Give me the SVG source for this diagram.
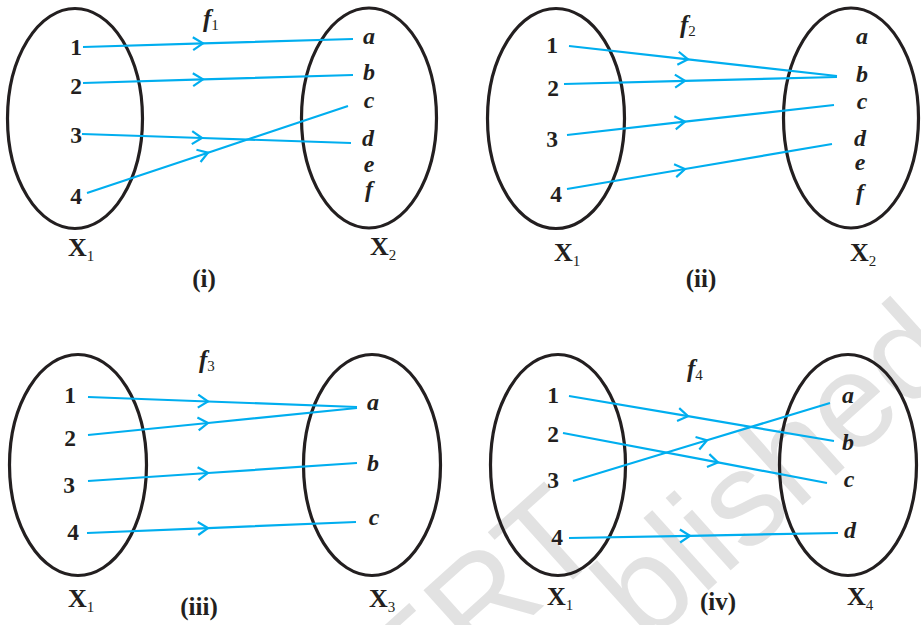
<svg xmlns="http://www.w3.org/2000/svg" width="921" height="625" viewBox="0 0 921 625">
<style>
.set{fill:none;stroke:#231f20;stroke-width:3.2}
.num{font-family:"Liberation Serif",serif;font-weight:bold;font-size:23.5px;fill:#231f20;text-anchor:middle}
.let{font-family:"Liberation Serif",serif;font-weight:bold;font-style:italic;font-size:24px;fill:#231f20;text-anchor:middle}
.xl{font-family:"Liberation Serif",serif;font-weight:bold;font-size:26px;fill:#231f20}
.sub{font-size:15px;font-weight:normal}
.fn{font-family:"Liberation Serif",serif;font-weight:bold;font-style:italic;font-size:25px;fill:#231f20}
.fsub{font-size:15px;font-style:normal;font-weight:normal}
.cap{font-family:"Liberation Serif",serif;font-weight:bold;font-size:25px;fill:#231f20;text-anchor:middle}
.arr{fill:none;stroke:#00aeef;stroke-width:2.2;marker-mid:url(#chev)}
.wm{font-family:"Liberation Sans",sans-serif;font-size:134px;fill:#e2e2e2;text-anchor:end}
</style>
<defs>
<marker id="chev" markerUnits="userSpaceOnUse" orient="auto" refX="0" refY="0" markerWidth="20" markerHeight="20" overflow="visible">
<path d="M-10,-6.5 L0,0 L-10,6.5" fill="none" stroke="#00aeef" stroke-width="2.2"/>
</marker>
</defs>
<rect width="921" height="625" fill="#ffffff"/>
<g id="watermark">
<text class="wm" transform="translate(608,548) rotate(-42)">ERT</text>
<text class="wm" transform="translate(962,362) rotate(-42)">blished</text>
</g>

<!-- Panel (i) -->
<g id="p1-X1">
<ellipse class="set" cx="75" cy="118.5" rx="67.5" ry="110"/>
<text class="num" x="76" y="55">1</text>
<text class="num" x="76" y="94">2</text>
<text class="num" x="76" y="143">3</text>
<text class="num" x="76" y="204">4</text>
<text class="xl" x="68" y="256">X<tspan class="sub" dy="5">1</tspan></text>
</g>
<g id="p1-X2">
<ellipse class="set" cx="369" cy="118" rx="67.5" ry="110"/>
<text class="let" x="369" y="44">a</text>
<text class="let" x="369" y="80">b</text>
<text class="let" x="369" y="108">c</text>
<text class="let" x="368" y="146">d</text>
<text class="let" x="369" y="172">e</text>
<text class="let" x="369" y="197">f</text>
<text class="xl" x="370" y="255">X<tspan class="sub" dy="5">2</tspan></text>
</g>
<g id="p1-connectors">
<path class="arr" d="M83,47 L203,43.4 L353,39"/>
<path class="arr" d="M83,83 L203,79.4 L353,75"/>
<path class="arr" d="M82,134 L202,138 L351,143"/>
<path class="arr" d="M87,193 L208,152.7 L348,106"/>
</g>
<g id="p1-labels">
<text class="fn" x="203" y="27">f<tspan class="fsub" dy="3">1</tspan></text>
<text class="cap" x="204" y="287">(i)</text>
</g>

<!-- Panel (ii) -->
<g id="p2-X1">
<ellipse class="set" cx="556" cy="118.5" rx="68.5" ry="110"/>
<text class="num" x="552" y="53">1</text>
<text class="num" x="553" y="96">2</text>
<text class="num" x="552" y="147">3</text>
<text class="num" x="556" y="202">4</text>
<text class="xl" x="554" y="261">X<tspan class="sub" dy="5">1</tspan></text>
</g>
<g id="p2-X2">
<ellipse class="set" cx="851" cy="118" rx="67.5" ry="110"/>
<text class="let" x="862" y="44">a</text>
<text class="let" x="862" y="82">b</text>
<text class="let" x="862" y="109">c</text>
<text class="let" x="860" y="146">d</text>
<text class="let" x="860" y="170">e</text>
<text class="let" x="860" y="200">f</text>
<text class="xl" x="850" y="261">X<tspan class="sub" dy="5">2</tspan></text>
</g>
<g id="p2-connectors">
<path class="arr" d="M569,46 L688,59.3 L837,76"/>
<path class="arr" d="M564,84 L685,80.9 L837,77"/>
<path class="arr" d="M567,135 L685,121.7 L834,105"/>
<path class="arr" d="M567,189 L685,169 L832,144"/>
</g>
<g id="p2-labels">
<text class="fn" x="680" y="33">f<tspan class="fsub" dy="3">2</tspan></text>
<text class="cap" x="701" y="287">(ii)</text>
</g>

<!-- Panel (iii) -->
<g id="p3-X1">
<ellipse class="set" cx="78" cy="465" rx="68.5" ry="110.5"/>
<text class="num" x="70" y="403">1</text>
<text class="num" x="70" y="446">2</text>
<text class="num" x="69" y="493">3</text>
<text class="num" x="73" y="540">4</text>
<text class="xl" x="68" y="607">X<tspan class="sub" dy="5">1</tspan></text>
</g>
<g id="p3-X3">
<ellipse class="set" cx="372" cy="465" rx="68.5" ry="110.5"/>
<text class="let" x="373" y="410">a</text>
<text class="let" x="373" y="471">b</text>
<text class="let" x="374" y="525">c</text>
<text class="xl" x="369" y="607">X<tspan class="sub" dy="5">3</tspan></text>
</g>
<g id="p3-connectors">
<path class="arr" d="M88,397 L208,401.5 L357,407"/>
<path class="arr" d="M88,435 L208,423 L357,408"/>
<path class="arr" d="M88,481 L208,473 L357,463"/>
<path class="arr" d="M87,533 L208,528.1 L356,522"/>
</g>
<g id="p3-labels">
<text class="fn" x="199" y="368">f<tspan class="fsub" dy="3">3</tspan></text>
<text class="cap" x="199" y="615">(iii)</text>
</g>

<!-- Panel (iv) -->
<g id="p4-X1">
<ellipse class="set" cx="558" cy="465" rx="67.5" ry="110.5"/>
<text class="num" x="553" y="403">1</text>
<text class="num" x="553" y="442">2</text>
<text class="num" x="553" y="488">3</text>
<text class="num" x="557" y="545">4</text>
<text class="xl" x="547" y="605">X<tspan class="sub" dy="5">1</tspan></text>
</g>
<g id="p4-X4">
<ellipse class="set" cx="848" cy="465" rx="68.5" ry="110.5"/>
<text class="let" x="848" y="403">a</text>
<text class="let" x="848" y="450">b</text>
<text class="let" x="849" y="487">c</text>
<text class="let" x="850" y="538">d</text>
<text class="xl" x="847" y="605">X<tspan class="sub" dy="5">4</tspan></text>
</g>
<g id="p4-connectors">
<path class="arr" d="M569,396 L688,416.2 L834,441"/>
<path class="arr" d="M563,433 L718,462.4 L827,483"/>
<path class="arr" d="M573,481 L707,440.3 L830,403"/>
<path class="arr" d="M569,538 L690,535.8 L838,533"/>
</g>
<g id="p4-labels">
<text class="fn" x="687" y="377">f<tspan class="fsub" dy="3">4</tspan></text>
<text class="cap" x="718" y="610">(iv)</text>
</g>
</svg>
